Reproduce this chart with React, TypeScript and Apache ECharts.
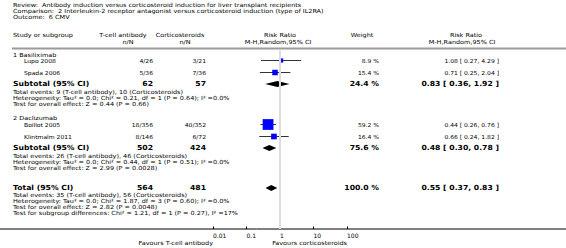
import React, { useEffect, useRef } from "react";
import * as echarts from "echarts";

// ---------- data ----------
const titleLines = [
  "Review:  Antibody induction versus corticosteroid induction for liver transplant recipients",
  "Comparison:  2 Interleukin-2 receptor antagonist versus corticosteroid induction (type of IL2RA)",
  "Outcome:  6 CMV",
];

const studyNames = ["Lupo 2008", "Spada 2006", "Boillot 2005", "Klintmalm 2011"];
const tcellEvents = [4, 5, 18, 8];
const tcellTotals = [26, 36, 356, 146];
const corticoEvents = [3, 7, 40, 6];
const corticoTotals = [21, 36, 352, 72];
const studyWeights = [8.9, 15.4, 59.2, 16.4];
const studyRR = [1.08, 0.71, 0.44, 0.66];
const studyLow = [0.27, 0.25, 0.26, 0.24];
const studyHigh = [4.29, 2.04, 0.76, 1.82];

const groupNames = ["1 Basiliximab", "2 Daclizumab"];
const groupTcellTotals = [62, 502];
const groupCorticoTotals = [57, 424];
const groupTcellEvents = [9, 26];
const groupCorticoEvents = [10, 46];
const groupWeights = [24.4, 75.6];
const groupRR = [0.83, 0.48];
const groupLow = [0.36, 0.3];
const groupHigh = [1.92, 0.78];
const groupHeterogeneity = [
  "Heterogeneity: Tau\u00b2 = 0.0; Chi\u00b2 = 0.21, df = 1 (P = 0.64); I\u00b2 =0.0%",
  "Heterogeneity: Tau\u00b2 = 0.0; Chi\u00b2 = 0.44, df = 1 (P = 0.51); I\u00b2 =0.0%",
];
const groupOverall = [
  "Test for overall effect: Z = 0.44 (P = 0.66)",
  "Test for overall effect: Z = 2.99 (P = 0.0028)",
];

const totalTcell = 564;
const totalCortico = 481;
const totalTcellEvents = 35;
const totalCorticoEvents = 56;
const totalWeight = 100.0;
const totalRR = 0.55;
const totalLow = 0.37;
const totalHigh = 0.83;
const totalHeterogeneity =
  "Heterogeneity: Tau\u00b2 = 0.0; Chi\u00b2 = 1.87, df = 3 (P = 0.60); I\u00b2 =0.0%";
const totalOverall = "Test for overall effect: Z = 2.82 (P = 0.0048)";
const subgroupDiff =
  "Test for subgroup differences: Chi\u00b2 = 1.21, df = 1 (P = 0.27), I\u00b2 =17%";

const xTickLabels = ["0.01", "0.1", "1", "10", "100"];

// ---------- layout (pixel rows) ----------
const STUDY_Y = [60.5, 72.5, 124.5, 136.5];
const GROUP_HEAD_Y = [55, 118];
const SUBTOTAL_Y = [84, 148];
const TOTAL_Y = 188;
const FONT = "DejaVu Sans";

const f2 = (v: number) => v.toFixed(2);
const ciText = (r: number, l: number, h: number) => `${f2(r)} [ ${f2(l)}, ${f2(h)} ]`;

const FOOT = { size: 5.6, sx: 1.16 };
const SMALL = { size: 5.5, sx: 1.1 };
const BIG = { size: 7.0, sx: 1.1, bold: true };

function txt(text: string, x: number, y: number, o: any = {}) {
  const align = o.align || "left";
  const st = o.st || FOOT;
  return {
    type: "text",
    x,
    y,
    scaleX: st.sx,
    scaleY: 1,
    silent: true,
    style: {
      text,
      fill: "#000",
      fontSize: st.size,
      fontFamily: FONT,
      fontWeight: st.bold ? "bold" : "normal",
      align,
      textAlign: align,
      verticalAlign: "middle",
      textVerticalAlign: "middle",
    },
  };
}

export default function App() {
  const ref = useRef<HTMLDivElement>(null);
  useEffect(() => {
    if (!ref.current) return;
    const chart = echarts.init(ref.current, undefined, { renderer: "svg" });

    const COL_T = 153;
    const COL_C = 206;
    const COL_W = 379;
    const COL_RR = 499;

    const g: any[] = [];
    titleLines.forEach((t, i) => g.push(txt(t, 13, 5 + i * 6)));
    // header
    g.push(txt("Study or subgroup", 13, 35));
    g.push(txt("T-cell antibody", 123, 35, { align: "center" }));
    g.push(txt("n/N", 128, 41.5, { align: "center" }));
    g.push(txt("Corticosteroids", 180, 35, { align: "center" }));
    g.push(txt("n/N", 185, 41.5, { align: "center" }));
    g.push(txt("Risk Ratio", 280, 35, { align: "center" }));
    g.push(txt("M-H,Random,95% CI", 278, 41.5, { align: "center" }));
    g.push(txt("Weight", 362, 35, { align: "center" }));
    g.push(txt("Risk Ratio", 466, 35, { align: "center" }));
    g.push(txt("M-H,Random,95% CI", 462, 41.5, { align: "center" }));
    g.push({ type: "rect", silent: true, shape: { x: 12, y: 47.5, width: 554, height: 2 }, style: { fill: "#9a9a9a" } });

    // groups
    groupNames.forEach((name, gi) => {
      g.push(txt(name, 13, GROUP_HEAD_Y[gi]));
      const sy = SUBTOTAL_Y[gi];
      g.push(txt("Subtotal (95% CI)", 13, sy, { st: BIG }));
      g.push(txt(String(groupTcellTotals[gi]), COL_T, sy, { st: BIG, align: "right" }));
      g.push(txt(String(groupCorticoTotals[gi]), COL_C, sy, { st: BIG, align: "right" }));
      g.push(txt(`${groupWeights[gi].toFixed(1)} %`, COL_W, sy, { st: BIG, align: "right" }));
      g.push(txt(ciText(groupRR[gi], groupLow[gi], groupHigh[gi]), COL_RR, sy, { st: BIG, align: "right" }));
      g.push(txt(`Total events: ${groupTcellEvents[gi]} (T-cell antibody), ${groupCorticoEvents[gi]} (Corticosteroids)`, 13, sy + 7.5));
      g.push(txt(groupHeterogeneity[gi], 13, sy + 13.5));
      g.push(txt(groupOverall[gi], 13, sy + 19.5));
    });
    // studies
    studyNames.forEach((name, i) => {
      const y = STUDY_Y[i] + 0.5;
      g.push(txt(name, 24, y, { st: SMALL }));
      g.push(txt(`${tcellEvents[i]}/${tcellTotals[i]}`, COL_T, y, { st: SMALL, align: "right" }));
      g.push(txt(`${corticoEvents[i]}/${corticoTotals[i]}`, COL_C, y, { st: SMALL, align: "right" }));
      g.push(txt(`${studyWeights[i].toFixed(1)} %`, COL_W, y, { st: SMALL, align: "right" }));
      g.push(txt(ciText(studyRR[i], studyLow[i], studyHigh[i]), COL_RR, y, { st: SMALL, align: "right" }));
    });
    // total
    g.push(txt("Total (95% CI)", 13, TOTAL_Y, { st: BIG }));
    g.push(txt(String(totalTcell), COL_T, TOTAL_Y, { st: BIG, align: "right" }));
    g.push(txt(String(totalCortico), COL_C, TOTAL_Y, { st: BIG, align: "right" }));
    g.push(txt(`${totalWeight.toFixed(1)} %`, COL_W, TOTAL_Y, { st: BIG, align: "right" }));
    g.push(txt(ciText(totalRR, totalLow, totalHigh), COL_RR, TOTAL_Y, { st: BIG, align: "right" }));
    g.push(txt(`Total events: ${totalTcellEvents} (T-cell antibody), ${totalCorticoEvents} (Corticosteroids)`, 13, TOTAL_Y + 6.5));
    g.push(txt(totalHeterogeneity, 13, TOTAL_Y + 12.5));
    g.push(txt(totalOverall, 13, TOTAL_Y + 18.5));
    g.push(txt(subgroupDiff, 13, TOTAL_Y + 24.5));

    // axis base line across page
    g.push({ type: "line", silent: true, shape: { x1: 0, y1: 229, x2: 566, y2: 229 }, style: { stroke: "#000", lineWidth: 1 } });
    g.push(txt("Favours T-cell antibody", 213, 242.5, { align: "right" }));
    g.push(txt("Favours corticosteroids", 347, 242.5, { align: "right" }));

    const studyData = studyNames.map((_, i) => [studyRR[i], STUDY_Y[i], studyLow[i], studyHigh[i], studyWeights[i]]);
    const diamondData = [
      ...groupNames.map((_, gi) => [groupRR[gi], SUBTOTAL_Y[gi], groupLow[gi], groupHigh[gi]]),
      [totalRR, TOTAL_Y, totalLow, totalHigh],
    ];

    chart.setOption({
      animation: false,
      backgroundColor: "#fff",
      grid: { left: 213, width: 134, top: 49, height: 180, containLabel: false },
      xAxis: {
        type: "log",
        logBase: 10,
        min: 0.01,
        max: 100,
        axisLine: { show: false },
        axisTick: { show: true, inside: true, length: 2.5, lineStyle: { color: "#000", width: 1 } },
        axisLabel: {
          align: "left",
          fontSize: 6,
          fontFamily: FONT,
          color: "#000",
          margin: 3,
          formatter: (_v: number, i: number) => xTickLabels[i],
        },
        splitLine: { show: false },
      },
      yAxis: { type: "value", min: 49, max: 229, inverse: true, show: false },
      graphic: g,
      series: [
        {
          type: "line",
          data: [],
          z: 1,
          silent: true,
          markLine: {
            silent: true,
            symbol: "none",
            label: { show: false },
            lineStyle: { color: "#dcdcdc", width: 2, type: "solid" },
            data: [{ xAxis: 1 }],
          },
        },
        {
          type: "custom",
          z: 3,
          silent: true,
          data: studyData,
          renderItem: (_p: any, api: any) => {
            const r = api.value(0), y = api.value(1), lo = api.value(2), hi = api.value(3), w = api.value(4);
            const a = api.coord([lo, y]);
            const b = api.coord([hi, y]);
            const c = api.coord([r, y]);
            const s = 1.4 * Math.sqrt(w);
            return {
              type: "group",
              children: [
                { type: "line", shape: { x1: a[0], y1: a[1], x2: b[0], y2: b[1] }, style: { stroke: "#000", lineWidth: 0.8 } },
                { type: "rect", shape: { x: c[0] - s / 2, y: c[1] - s / 2, width: s, height: s }, style: { fill: "#0000ff" } },
              ],
            };
          },
        },
        {
          type: "custom",
          z: 3,
          silent: true,
          data: diamondData,
          renderItem: (_p: any, api: any) => {
            const r = api.value(0), y = api.value(1), lo = api.value(2), hi = api.value(3);
            const a = api.coord([lo, y]);
            const b = api.coord([hi, y]);
            const c = api.coord([r, y]);
            const h = 3;
            return {
              type: "polygon",
              shape: { points: [[a[0], a[1]], [c[0], c[1] - h], [b[0], b[1]], [c[0], c[1] + h]] },
              style: { fill: "#000" },
            };
          },
        },
      ],
    });
    return () => chart.dispose();
  }, []);
  return <div ref={ref} style={{ position: "absolute", left: 0, top: 0, width: 566, height: 248 }} />;
}
